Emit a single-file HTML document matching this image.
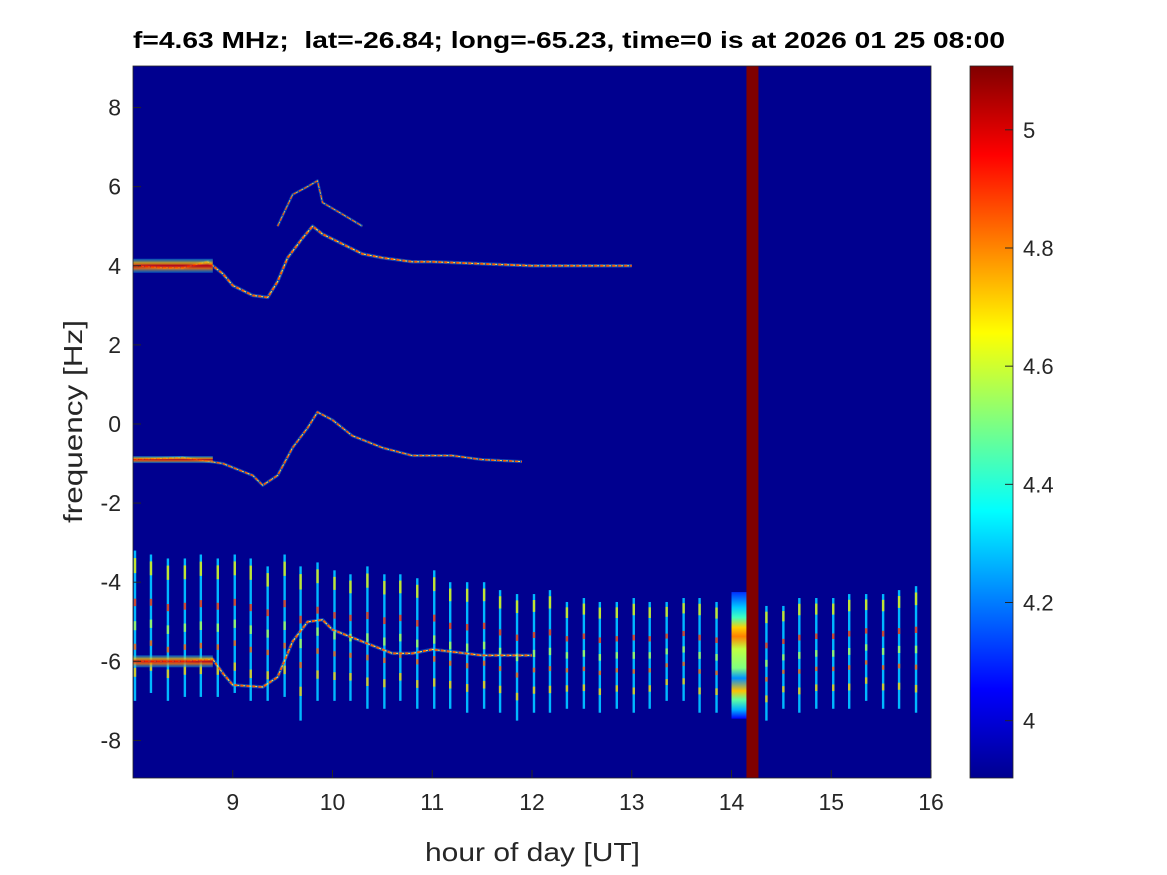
<!DOCTYPE html>
<html><head><meta charset="utf-8"><style>
body{margin:0;background:#fff;}
svg{display:block;font-family:"Liberation Sans",sans-serif;}
</style></head><body>
<svg id="fig" width="1167" height="875" viewBox="0 0 1167 875">
<defs>
<linearGradient id="jet" x1="0" y1="1" x2="0" y2="0">
<stop offset="0" stop-color="#00008f"/><stop offset="0.125" stop-color="#0000ff"/>
<stop offset="0.375" stop-color="#00ffff"/><stop offset="0.625" stop-color="#ffff00"/>
<stop offset="0.875" stop-color="#ff0000"/><stop offset="1" stop-color="#800000"/>
</linearGradient>
<linearGradient id="blockg" x1="0" y1="0" x2="0" y2="1">
<stop offset="0" stop-color="#0030ff"/><stop offset="0.12" stop-color="#00c8ff"/>
<stop offset="0.2" stop-color="#40ffc0"/><stop offset="0.28" stop-color="#ffd000"/>
<stop offset="0.35" stop-color="#ff8000"/><stop offset="0.45" stop-color="#c0ff40"/>
<stop offset="0.6" stop-color="#80ff80"/><stop offset="0.68" stop-color="#0090ff"/>
<stop offset="0.78" stop-color="#ffc000"/><stop offset="0.85" stop-color="#60ffa0"/>
<stop offset="0.93" stop-color="#00b0ff"/><stop offset="1" stop-color="#0000ff"/>
</linearGradient>
<linearGradient id="bandg" x1="0" y1="0" x2="0" y2="1">
<stop offset="0" stop-color="#00c0ff" stop-opacity="0.5"/><stop offset="0.3" stop-color="#ffc000"/>
<stop offset="0.5" stop-color="#e00000"/><stop offset="0.7" stop-color="#ff8000"/>
<stop offset="1" stop-color="#00c0ff" stop-opacity="0.5"/>
</linearGradient>
<clipPath id="plotclip"><rect x="133" y="66" width="798" height="712"/></clipPath>
</defs>
<text x="133" y="48" textLength="872" lengthAdjust="spacingAndGlyphs" font-size="23" font-weight="bold" xml:space="preserve">f=4.63 MHz;  lat=-26.84; long=-65.23, time=0 is at 2026 01 25 08:00</text>
<rect x="133" y="66" width="798" height="712" fill="#00008f"/>
<g id="marks" clip-path="url(#plotclip)"></g>
<rect x="133" y="66" width="798" height="712" fill="none" stroke="#262626" stroke-width="0.8"/>
<g id="axes"></g>
<rect x="970" y="66" width="43" height="712" fill="url(#jet)" stroke="#262626" stroke-width="0.8"/>
<g id="cbticks"></g>
<text x="425" y="861" textLength="215" lengthAdjust="spacingAndGlyphs" font-size="26" fill="#262626">hour of day [UT]</text>
<text transform="translate(82,523) rotate(-90)" textLength="203" lengthAdjust="spacingAndGlyphs" font-size="26" fill="#262626">frequency [Hz]</text>
</svg>
<script>
const xTicks=[9,10,11,12,13,14,15,16];
const yTicks=[8,6,4,2,0,-2,-4,-6,-8];
const cbTicks=[5,4.8,4.6,4.4,4.2,4];
const upperH=[8.0,8.3,8.5,8.75,8.9,9.0,9.2,9.35,9.45,9.55,9.7,9.8,9.9,10.1,10.3,10.5,10.8,11.0,11.5,12.0,12.5,13.0];
const upperF=[4.0,3.95,3.95,4.1,3.8,3.5,3.25,3.2,3.6,4.2,4.7,5.0,4.8,4.55,4.3,4.2,4.1,4.1,4.05,4.0,4.0,4.0];
const upper2H=[9.45,9.6,9.75,9.85,9.9,10.1,10.3];
const upper2F=[5.0,5.8,6.0,6.15,5.6,5.3,5.0];
const midH=[8.0,8.5,8.9,9.2,9.3,9.45,9.6,9.75,9.85,10.0,10.2,10.5,10.8,11.2,11.5,11.9];
const midF=[-0.9,-0.85,-1.0,-1.3,-1.55,-1.3,-0.6,-0.1,0.3,0.1,-0.3,-0.6,-0.8,-0.8,-0.9,-0.95];
const lowH=[8.0,8.5,8.8,8.9,9.0,9.3,9.45,9.6,9.75,9.9,10.0,10.2,10.4,10.6,10.8,11.0,11.5,12.0];
const lowF=[-6.0,-6.0,-5.95,-6.3,-6.6,-6.65,-6.4,-5.5,-5.0,-4.95,-5.2,-5.4,-5.6,-5.8,-5.8,-5.7,-5.85,-5.85];
const stripeH=[8.02,8.18,8.35,8.52,8.68,8.85,9.02,9.18,9.35,9.52,9.68,9.85,10.02,10.18,10.35,10.52,10.68,10.85,11.02,11.18,11.35,11.52,11.68,11.85,12.02,12.18,12.35,12.52,12.68,12.85,13.02,13.18,13.35,13.52,13.68,13.85,14.35,14.52,14.68,14.85,15.02,15.18,15.35,15.52,15.68,15.85];
const stripeTop=[-3.2,-3.3,-3.4,-3.4,-3.3,-3.4,-3.3,-3.4,-3.6,-3.3,-3.6,-3.5,-3.7,-3.8,-3.6,-3.8,-3.8,-3.9,-3.7,-4.0,-4.0,-4.0,-4.2,-4.3,-4.3,-4.2,-4.5,-4.4,-4.5,-4.5,-4.4,-4.5,-4.5,-4.4,-4.4,-4.5,-4.6,-4.6,-4.4,-4.4,-4.4,-4.3,-4.3,-4.3,-4.2,-4.1];
const stripeBot=[-7.0,-6.8,-7.0,-6.9,-6.9,-6.9,-6.8,-7.0,-7.0,-6.9,-7.5,-7.0,-7.0,-7.0,-7.2,-7.2,-7.0,-7.2,-7.2,-7.2,-7.3,-7.2,-7.3,-7.5,-7.3,-7.3,-7.2,-7.2,-7.3,-7.2,-7.3,-7.2,-7.0,-7.0,-7.3,-7.3,-7.5,-7.2,-7.3,-7.2,-7.2,-7.2,-7.0,-7.2,-7.2,-7.3];
const blockH=[14.0,14.15];const blockF=[-4.25,-7.45];
const barH=[14.15,14.27];
const X0=8,X1=16,Y0=-8.95,Y1=9.05,C0=3.903,C1=5.108;
const px=h=>133+(h-X0)/(X1-X0)*798;
const py=f=>778-(f-Y0)/(Y1-Y0)*712;
const cy=c=>778-(c-C0)/(C1-C0)*712;
const NS="http://www.w3.org/2000/svg";
const marks=document.getElementById('marks');
function mk(tag,attrs,parent){const e=document.createElementNS(NS,tag);for(const k in attrs)e.setAttribute(k,attrs[k]);parent.appendChild(e);return e;}
stripeH.forEach((h,i)=>{
 const g=mk('g',{},marks);
 
 
 const t=py(stripeTop[i]),b=py(stripeBot[i]);
 mk('rect',{x:px(h)-1.2,y:t,width:2.4,height:b-t,fill:'#00b8ff'},g);
 const segs=[[0.05,0.15,'#f0f000'],[0.32,0.37,'#ff3000'],[0.47,0.53,'#b0ff50'],[0.62,0.66,'#ff6000'],[0.78,0.84,'#ffd000']];
 segs.forEach(s=>mk('rect',{x:px(h)-1.2,y:t+(b-t)*s[0],width:2.4,height:(b-t)*(s[1]-s[0]),fill:s[2],opacity:0.8},g));
});
const blk=mk('rect',{x:px(blockH[0]),y:py(blockF[0]),width:px(blockH[1])-px(blockH[0]),height:py(blockF[1])-py(blockF[0]),fill:'url(#blockg)'},marks);


const bar=mk('rect',{x:px(barH[0]),y:66,width:px(barH[1])-px(barH[0]),height:712,fill:'#800000'},marks);


function trace(H,F,name,w){
 const d=H.map((h,i)=>(i?'L':'M')+px(h).toFixed(1)+','+py(F[i]).toFixed(1)).join('');
 const g=mk('g',{},marks);
 
 
 mk('path',{d:d,fill:'none',stroke:'#20c0ff',"stroke-width":w+1.5,opacity:0.35,"stroke-linejoin":"round"},g);
 mk('path',{d:d,fill:'none',stroke:'#ff5a00',"stroke-width":w,"stroke-dasharray":"3 3","stroke-linejoin":"round"},g);
 mk('path',{d:d,fill:'none',stroke:'#ffe040',"stroke-width":w*0.6,"stroke-dasharray":"2 4","stroke-dashoffset":"3","stroke-linejoin":"round"},g);
}
trace(upperH,upperF,'upper-trace',2);
trace(upper2H,upper2F,'upper-secondary-trace',1.2);
trace(midH,midF,'middle-trace',1.6);
trace(lowH,lowF,'lower-trace',2);
[[upperF[0],'upper-start-band',14],[midF[0],'middle-start-band',7],[lowF[0],'lower-start-band',12]].forEach(a=>{
 const r=mk('rect',{x:133,y:py(a[0])-a[2]/2,width:px(8.8)-133,height:a[2],fill:'url(#bandg)',opacity:0.8},marks);
 
 
});
const axes=document.getElementById('axes');
xTicks.forEach(v=>{
 mk('line',{x1:px(v),x2:px(v),y1:778,y2:770,stroke:'#262626'},axes);
 const t=mk('text',{x:px(v),y:810,"text-anchor":"middle","font-size":23,fill:'#262626'},axes);
 
 
 t.textContent=v;
});
yTicks.forEach(v=>{
 mk('line',{x1:133,x2:141,y1:py(v),y2:py(v),stroke:'#262626'},axes);
 const t=mk('text',{x:121,y:py(v)+8,"text-anchor":"end","font-size":23,fill:'#262626'},axes);
 
 
 t.textContent=v;
});
const cb=document.getElementById('cbticks');
cbTicks.forEach(v=>{
 mk('line',{x1:1005,x2:1013,y1:cy(v),y2:cy(v),stroke:'#262626'},cb);
 const t=mk('text',{x:1023,y:cy(v)+8,"font-size":22,fill:'#262626'},cb);
 
 
 t.textContent=v;
});
</script>
</body></html>
